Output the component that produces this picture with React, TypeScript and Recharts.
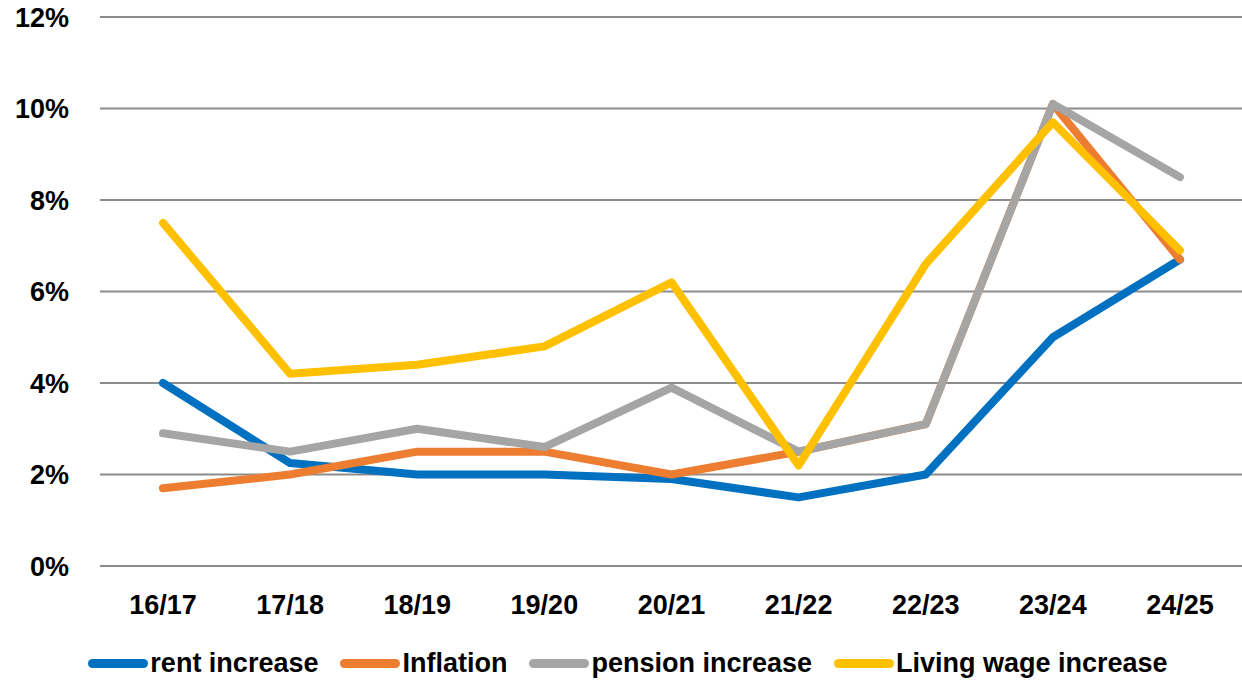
import { LineChart, Line, XAxis, YAxis, CartesianGrid, Legend } from 'recharts';

const years = ['16/17', '17/18', '18/19', '19/20', '20/21', '21/22', '22/23', '23/24', '24/25'];
const rentIncrease = [4.0, 2.25, 2.0, 2.0, 1.9, 1.5, 2.0, 5.0, 6.7];
const inflation = [1.7, 2.0, 2.5, 2.5, 2.0, 2.5, 3.1, 10.1, 6.7];
const pensionIncrease = [2.9, 2.5, 3.0, 2.6, 3.9, 2.5, 3.1, 10.1, 8.5];
const livingWageIncrease = [7.5, 4.2, 4.4, 4.8, 6.2, 2.2, 6.6, 9.7, 6.9];
const yTicks = [0, 2, 4, 6, 8, 10, 12];

const SERIES = [
  { key: 'rent', name: 'rent increase', color: '#0070C0' },
  { key: 'inflation', name: 'Inflation', color: '#ED7D31' },
  { key: 'pension', name: 'pension increase', color: '#A5A5A5' },
  { key: 'living', name: 'Living wage increase', color: '#FFC000' },
];

const data = years.map((year, i) => ({
  year,
  rent: rentIncrease[i],
  inflation: inflation[i],
  pension: pensionIncrease[i],
  living: livingWageIncrease[i],
}));

const FONT = '"Liberation Sans", Arial, sans-serif';
const tickStyle = { fill: '#000', fontSize: 27, fontWeight: 700, fontFamily: FONT };

function ChartLegend() {
  return (
    <div
      style={{
        height: 34,
        display: 'flex',
        justifyContent: 'center',
        alignItems: 'center',
        gap: 22,
        fontFamily: FONT,
        fontWeight: 700,
        fontSize: 27,
        color: '#000',
        paddingLeft: 14,
      }}
    >
      {SERIES.map((s) => (
        <div key={s.key} style={{ display: 'flex', alignItems: 'center' }}>
          <span
            style={{
              display: 'inline-block',
              width: 60,
              height: 9,
              borderRadius: 5,
              background: s.color,
              marginRight: 2,
            }}
          />
          <span style={{ lineHeight: '34px' }}>{s.name}</span>
        </div>
      ))}
    </div>
  );
}

export default function App() {
  return (
    <div style={{ position: 'absolute', left: 0, top: 0, width: 1242, height: 680, background: '#fff' }}>
      <LineChart width={1242} height={680} data={data} margin={{ top: 17, right: 0, bottom: 0, left: 0 }}>
        <CartesianGrid vertical={false} stroke="#8c8c8c" strokeWidth={2} />
        <XAxis
          dataKey="year"
          axisLine={false}
          tickLine={false}
          tickSize={0}
          tickMargin={29}
          height={80}
          tick={tickStyle}
          interval={0}
          padding={{ left: 63, right: 62 }}
        />
        <YAxis
          domain={[0, 12]}
          ticks={yTicks}
          axisLine={false}
          tickLine={false}
          tickSize={0}
          tickMargin={31}
          width={100}
          tick={tickStyle}
          tickFormatter={(v) => `${v}%`}
        />
        <Legend verticalAlign="bottom" content={() => <ChartLegend />} />
        {SERIES.map((s) => (
          <Line
            key={s.key}
            type="linear"
            dataKey={s.key}
            name={s.name}
            stroke={s.color}
            strokeWidth={8}
            strokeLinecap="round"
            strokeLinejoin="round"
            dot={false}
            activeDot={false}
            isAnimationActive={false}
          />
        ))}
      </LineChart>
    </div>
  );
}
